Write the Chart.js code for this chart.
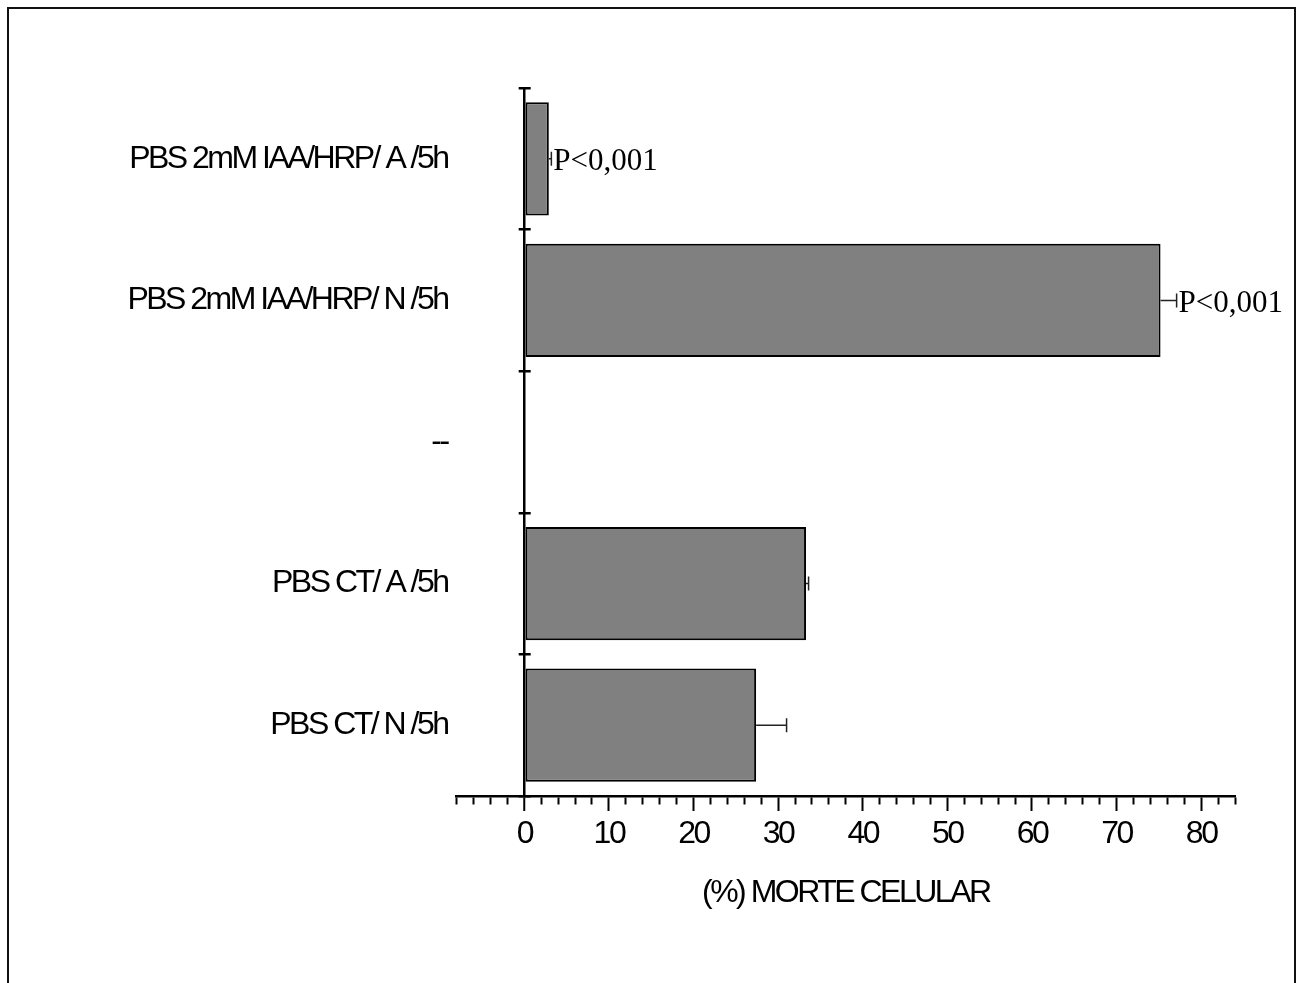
<!DOCTYPE html>
<html>
<head>
<meta charset="utf-8">
<title>(%) MORTE CELULAR</title>
<script src="https://cdn.jsdelivr.net/npm/chart.js@4.4.1/dist/chart.umd.min.js"></script>
<style>
  html, body { margin: 0; padding: 0; background: #fff; overflow: hidden; }
  #wrap { position: relative; width: 1301px; height: 983px; }
  #frame { position: absolute; left: 7px; top: 7px; width: 1285px; height: 1100px; border: 2px solid #111; }
  #c { position: absolute; left: 0; top: 0; }
</style>
</head>
<body>
<div id="wrap">
  <div id="frame"></div>
  <canvas id="c" width="1301" height="983"></canvas>
</div>
<script>
// Groups (top to bottom)
const categories = [
  'PBS 2mM IAA/HRP/ A /5h',
  'PBS 2mM IAA/HRP/ N /5h',
  '--',
  'PBS CT/ A /5h',
  'PBS CT/ N /5h'
];
// Mean cell death (%) and its error (upper side only)
const mortality = [2.9, 75.2, null, 33.3, 27.4];
const errors = [0.3, 1.9, null, 0.3, 3.6];
// Significance notes printed after the error bar
const notes = ['P<0,001', 'P<0,001', '', '', ''];
// Labelled ticks of the value axis
const xTickLabels = [0, 10, 20, 30, 40, 50, 60, 70, 80];

const SANS = "'Liberation Sans', Arial, sans-serif";
const SERIF = "'Liberation Serif', 'Times New Roman', serif";
const SPACING = '-2.5px';
const FONT_SIZE = 32;

// Tight text tracking for the sans labels
const trackingPlugin = {
  id: 'tracking',
  beforeUpdate(chart) { chart.ctx.letterSpacing = SPACING; },
  beforeDraw(chart) { chart.ctx.letterSpacing = SPACING; }
};

// One-sided error bars and the P notes
const errorBarPlugin = {
  id: 'errorBars',
  afterDatasetsDraw(chart) {
    const { ctx, scales: { x, y } } = chart;
    ctx.save();
    categories.forEach((c, i) => {
      const v = mortality[i];
      const e = errors[i];
      if (v == null) return;
      const yc = y.getPixelForValue(i);
      const x0 = x.getPixelForValue(v);
      const x1 = x.getPixelForValue(v + e);
      ctx.strokeStyle = '#222';
      ctx.lineWidth = 1.5;
      ctx.beginPath();
      ctx.moveTo(x0, yc);
      ctx.lineTo(x1, yc);
      ctx.moveTo(x1, yc - 7);
      ctx.lineTo(x1, yc + 7);
      ctx.stroke();
      if (notes[i]) {
        ctx.letterSpacing = '0px';
        ctx.font = '31px ' + SERIF;
        ctx.fillStyle = '#000';
        ctx.textAlign = 'left';
        ctx.textBaseline = 'middle';
        ctx.fillText(notes[i], x1 + 2, yc + 3);
      }
    });
    ctx.restore();
  }
};

const isMajor = v => xTickLabels.includes(v);

new Chart(document.getElementById('c'), {
  type: 'bar',
  data: {
    labels: categories,
    datasets: [{
      data: mortality,
      backgroundColor: '#808080',
      borderColor: '#000',
      borderWidth: 2,
      borderSkipped: false,
      barPercentage: 0.8,
      categoryPercentage: 1.0
    }]
  },
  options: {
    indexAxis: 'y',
    responsive: false,
    animation: false,
    events: [],
    layout: { padding: { top: 88, right: 66, left: 0, bottom: 0 } },
    plugins: { legend: { display: false }, tooltip: { enabled: false } },
    scales: {
      x: {
        type: 'linear',
        position: 'bottom',
        min: -8,
        max: 84,
        ticks: {
          stepSize: 2,
          autoSkip: false,
          maxRotation: 0,
          minRotation: 0,
          padding: 4,
          color: '#000',
          font: { family: SANS, size: FONT_SIZE },
          callback: v => isMajor(v) ? String(v) : ''
        },
        grid: {
          drawOnChartArea: true,
          drawTicks: true,
          color: c => (c.tick && c.tick.value === 0) ? '#000' : 'rgba(0,0,0,0)',
          lineWidth: c => (c.tick && c.tick.value === 0) ? 2.5 : 1,
          tickLength: 15,
          tickWidth: 2,
          tickColor: '#000',
          tickBorderDash: c => (c.tick && isMajor(c.tick.value)) ? [] : [7, 100]
        },
        border: { display: true, color: '#000', width: 2.5 },
        title: {
          display: true,
          text: '(%) MORTE CELULAR',
          color: '#000',
          font: { family: SANS, size: FONT_SIZE },
          padding: { top: 0, bottom: 71 }
        },
        afterFit: s => { s.height = 187; }
      },
      y: {
        type: 'category',
        position: 'left',
        offset: true,
        ticks: {
          autoSkip: false,
          padding: 9,
          color: '#000',
          font: { family: SANS, size: FONT_SIZE }
        },
        grid: {
          drawTicks: false,
          drawOnChartArea: true,
          offset: true,
          color: '#000',
          lineWidth: 2.5
        },
        border: {
          display: false,
          // short marks crossing the zero line at each group boundary
          dash: c => {
            const xs = c.chart.scales.x;
            if (!xs) return [];
            const gap = xs.getPixelForValue(0) - c.chart.chartArea.left - 6;
            return [0, gap, 12, 4000];
          }
        },
        afterFit: s => { s.width = 456.6; }
      }
    }
  },
  plugins: [trackingPlugin, errorBarPlugin]
});
</script>
</body>
</html>
